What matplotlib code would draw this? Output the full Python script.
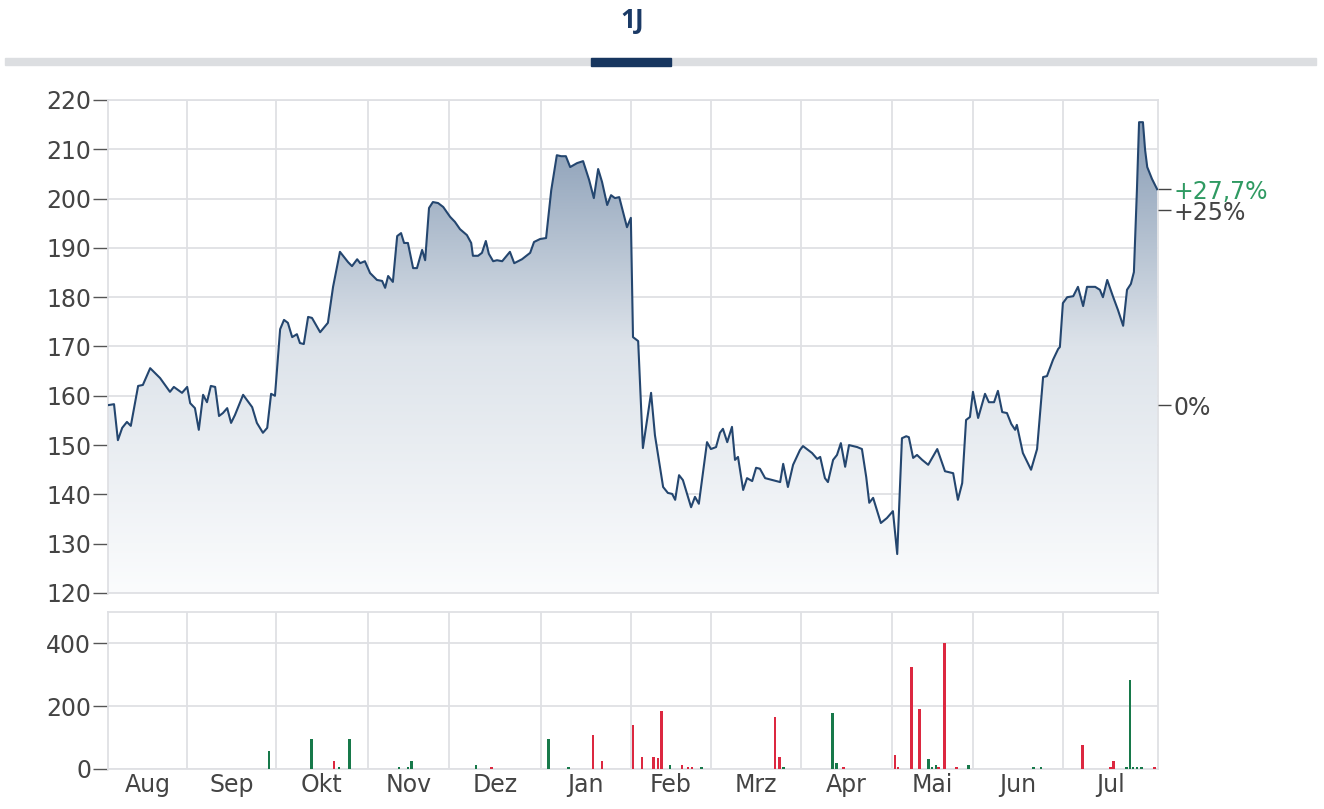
import numpy as np
import matplotlib
matplotlib.use("Agg")
import matplotlib.pyplot as plt
from matplotlib.colors import LinearSegmentedColormap
from matplotlib.patches import Rectangle

# ---------------- data ----------------
title = "1J"
months = ['Aug', 'Sep', 'Okt', 'Nov', 'Dez', 'Jan', 'Feb', 'Mrz', 'Apr', 'Mai', 'Jun', 'Jul']
# month boundaries in trading-day index
month_bounds = [0, 18.4, 39.0, 60.4, 79.2, 100.6, 121.5, 140.1, 161.0, 182.2, 201.0, 221.9, 244.0]

price_days = [
    0.0, 1.4, 2.3, 3.3, 4.4, 5.3, 7.0, 8.1, 9.8, 12.1, 14.4, 15.3, 17.2, 18.4, 19.1, 20.2, 21.1,
    22.1, 23.0, 23.9, 24.9, 25.8, 26.7, 27.7, 28.6, 29.5, 31.4, 33.5, 34.6, 36.0, 37.0, 37.9, 38.8,
    40.0, 40.9, 41.8, 42.8, 43.9, 44.6, 45.5, 46.5, 47.4, 49.3, 51.1, 52.3, 53.9, 55.8, 56.7, 57.9,
    58.6, 59.7, 60.9, 62.5, 63.7, 64.4, 65.1, 66.2, 67.2, 68.1, 68.8, 69.7, 70.9, 71.8, 73.0, 73.7,
    74.6, 75.5, 76.7, 77.9, 79.5, 80.6, 81.8, 83.4, 84.4, 84.8, 86.0, 86.9, 87.8, 88.5, 89.5, 90.4,
    91.6, 93.4, 94.4, 96.2, 98.1, 99.0, 100.4, 101.8, 103.0, 104.3, 105.3, 106.4, 107.4, 109.0,
    110.4, 111.8, 112.9, 113.9, 114.8, 116.0, 116.9, 117.8, 118.8, 120.6, 121.5, 122.0, 123.2,
    124.3, 126.2, 127.1, 129.0, 130.1, 131.1, 131.8, 132.7, 133.6, 135.5, 136.4, 137.3, 139.2,
    140.1, 141.3, 142.2, 142.9, 143.9, 145.0, 145.7, 146.4, 147.6, 148.5, 149.7, 150.6, 151.5,
    152.7, 154.5, 156.2, 156.9, 158.0, 159.2, 160.8, 161.5, 163.6, 164.8, 165.5, 166.6, 167.3,
    168.5, 169.4, 170.3, 171.3, 172.2, 174.1, 175.2, 176.2, 176.9, 177.8, 179.6, 181.0, 182.4,
    183.4, 184.5, 185.5, 186.1, 187.1, 188.0, 189.2, 190.6, 192.7, 194.5, 196.4, 197.5, 198.5,
    199.4, 200.3, 201.0, 202.2, 203.8, 204.7, 205.9, 206.8, 207.8, 208.9, 209.9, 210.8, 211.2,
    212.6, 214.5, 215.9, 217.3, 218.2, 219.6, 220.8, 221.2, 221.9, 222.9, 224.3, 225.4, 226.6,
    227.5, 229.4, 230.5, 231.2, 232.2, 233.6, 234.7, 235.9, 236.8, 237.7, 238.4, 239.1, 239.6,
    240.5, 241.0, 241.5, 242.6, 243.8]
price_values = [
    158.1, 158.3, 151.0, 153.5, 154.7, 153.9, 162.0, 162.2, 165.6, 163.6, 160.8, 161.8, 160.6, 161.8, 158.5, 157.5, 153.1,
    160.2, 158.7, 162.0, 161.8, 155.9, 156.5, 157.5, 154.5, 156.1, 160.2, 157.7, 154.5, 152.5, 153.5, 160.4, 160.0,
    173.5, 175.4, 174.8, 171.9, 172.5, 170.7, 170.5, 176.0, 175.8, 172.9, 174.8, 182.1, 189.2, 187.1, 186.3, 187.7,
    186.9, 187.3, 184.9, 183.5, 183.3, 181.9, 184.3, 183.1, 192.4, 193.0, 191.0, 191.0, 185.9, 185.9, 189.6, 187.5,
    198.1, 199.3, 199.1, 198.3, 196.3, 195.3, 193.8, 192.6, 191.0, 188.4, 188.4, 189.0, 191.4, 188.8, 187.3, 187.5,
    187.3, 189.2, 186.9, 187.7, 189.0, 191.2, 191.8, 192.0, 201.7, 208.8, 208.6, 208.6, 206.4, 207.2,
    207.6, 203.8, 200.1, 206.0, 203.4, 198.7, 200.7, 200.1, 200.3, 194.2, 196.1, 171.9, 171.1,
    149.4, 160.6, 152.0, 141.5, 140.3, 140.1, 138.9, 143.9, 142.9, 137.4, 139.5, 138.1, 150.6,
    149.2, 149.6, 152.5, 153.3, 150.6, 153.7, 147.0, 147.6, 140.9, 143.3, 142.7, 145.4, 145.2,
    143.3, 142.9, 142.5, 146.2, 141.5, 146.0, 149.0, 149.8, 148.4, 147.2, 147.6, 143.3, 142.5,
    147.0, 148.0, 150.4, 145.6, 150.0, 149.6, 149.2, 143.5, 138.3, 139.3, 134.2, 135.2, 136.6,
    127.9, 151.4, 151.8, 151.6, 147.4, 148.0, 147.0, 146.0, 149.2, 144.7, 144.3, 138.9, 142.3,
    155.1, 155.7, 160.8, 155.5, 160.4, 158.7, 158.7, 161.0, 156.7, 156.5, 154.3, 153.1, 154.1,
    148.4, 145.0, 149.2, 163.8, 164.0, 167.3, 169.5, 169.9, 178.8, 180.0, 180.2, 182.1, 178.2,
    182.1, 182.1, 181.5, 180.0, 183.5, 180.0, 177.4, 174.2, 181.5, 182.7, 185.1, 201.7, 215.5,
    215.5, 209.9, 206.4, 204.0, 201.9]

vol_days = [37.4, 47.2, 52.5, 53.7, 56.2, 67.6, 69.7, 70.6,
            85.5, 89.2, 102.3, 107.1, 112.7, 114.8, 122.0, 124.1, 126.7, 127.8, 128.7, 130.6,
            133.4, 134.8, 135.7, 138.0, 155.0, 156.0, 156.9, 168.3, 169.2, 171.0,
            182.9, 183.6, 186.8, 188.5, 190.6, 191.5, 192.4, 192.9, 194.3, 197.1, 199.9,
            215.0, 216.8, 226.4, 232.9, 233.6, 236.6, 237.5, 238.2, 239.1, 240.1, 243.1]
vol_values = [57, 95, 25, 7, 95, 7, 5, 25,
              13, 7, 95, 7, 108, 25, 140, 39, 39, 34, 185, 13,
              13, 7, 7, 7, 167, 39, 7, 177, 18, 7,
              45, 7, 324, 191, 31, 7, 13, 7, 400, 7, 13,
              7, 7, 76, 7, 25, 7, 285, 7, 7, 7, 7]
vol_up = [1, 1, 0, 1, 1, 1, 1, 1,
          1, 0, 1, 1, 0, 0, 0, 0, 0, 0, 0, 1,
          0, 0, 0, 1, 0, 0, 1, 1, 1, 0,
          0, 0, 0, 0, 1, 1, 1, 0, 0, 0, 1,
          1, 1, 0, 0, 0, 1, 1, 1, 1, 1, 0]

pct_ticks = [201.9, 197.6, 158.1]
pct_labels = ['+27,7%', '+25%', '0%']

# ---------------- style ----------------
W, H = 1324, 809
fig = plt.figure(figsize=(W / 100, H / 100), dpi=100)
plt.rcParams['font.family'] = ['DejaVu Sans']

grid_c = '#dfe0e4'
text_c = '#444444'
line_c = '#24466f'
red_c = '#dc2840'
green_c = '#17794a'
FS = 17

def fx(px):
    return px / W

def fy(py):
    return 1 - py / H

# header
fig.text(fx(632), fy(20), title, ha='center', va='center', fontsize=19, fontweight='bold',
         color='#1b3a66', family=['Open Sans', 'DejaVu Sans'])
fig.patches.append(Rectangle((fx(5), fy(65)), fx(1311), 7 / H, transform=fig.transFigure,
                             color='#dcdee1', zorder=1))
fig.patches.append(Rectangle((fx(591), fy(66)), fx(80), 8 / H, transform=fig.transFigure,
                             color='#17365f', zorder=2))

# price axes
ax = fig.add_axes([fx(108), fy(593), fx(1158 - 108), (593 - 100) / H])
xmin, xmax = month_bounds[0], month_bounds[-1]
ax.set_xlim(xmin, xmax)
ax.set_ylim(120, 220)

# gradient fill
cmap = LinearSegmentedColormap.from_list('g', ['#fbfcfd', '#dde3ea', '#7e94af'])
grad = np.linspace(0, 1, 256).reshape(-1, 1)
im = ax.imshow(grad, extent=(xmin, xmax, 120, 220), origin='lower', aspect='auto', cmap=cmap, zorder=1)
poly = ax.fill_between(price_days, price_values, 120, color='none', lw=0)
path = poly.get_paths()[0]
im.set_clip_path(path, transform=ax.transData)
ax.plot(price_days, price_values, color=line_c, lw=1.5, zorder=3)

ax.set_yticks(range(120, 221, 10))
ax.set_xticks(month_bounds[1:-1])
ax.tick_params(axis='x', length=0, labelbottom=False)
ax.tick_params(axis='y', length=11, width=1, color='#555555', labelsize=FS, labelcolor=text_c, pad=1)
ax.grid(True, color=grid_c, lw=1.3, zorder=0)
ax.set_axisbelow(True)
for s in ax.spines.values():
    s.set_color(grid_c)
    s.set_linewidth(1.3)

# right percentage labels
ax2 = ax.twinx()
ax2.set_ylim(120, 220)
ax2.set_yticks(pct_ticks)
ax2.set_yticklabels(pct_labels)
ax2.tick_params(axis='y', length=9, width=1, color='#444444', labelsize=FS, labelcolor=text_c, pad=2)
ax2.get_yticklabels()[0].set_color('#2f9a62')
for s in ax2.spines.values():
    s.set_visible(False)

# volume axes
axv = fig.add_axes([fx(108), fy(769), fx(1158 - 108), (769 - 612) / H])
axv.set_xlim(xmin, xmax)
axv.set_ylim(0, 500)
colors = [green_c if u else red_c for u in vol_up]
axv.bar(vol_days, vol_values, width=0.65, color=colors, zorder=3)
axv.set_yticks([0, 200, 400])
axv.set_xticks(month_bounds[1:-1])
axv.tick_params(axis='x', which='major', length=0, labelbottom=False)
mids = [(month_bounds[i] + month_bounds[i + 1]) / 2 for i in range(len(months))]
axv.set_xticks(mids, minor=True)
axv.set_xticklabels(months, minor=True)
axv.tick_params(axis='x', which='minor', length=0, labelsize=FS, labelcolor=text_c, pad=3)
axv.tick_params(axis='y', length=11, width=1, color='#555555', labelsize=FS, labelcolor=text_c, pad=1)
axv.grid(True, which='major', color=grid_c, lw=1.3, zorder=0)
axv.set_axisbelow(True)
for s in axv.spines.values():
    s.set_color(grid_c)
    s.set_linewidth(1.3)

fig.savefig('out.png', dpi=100)
